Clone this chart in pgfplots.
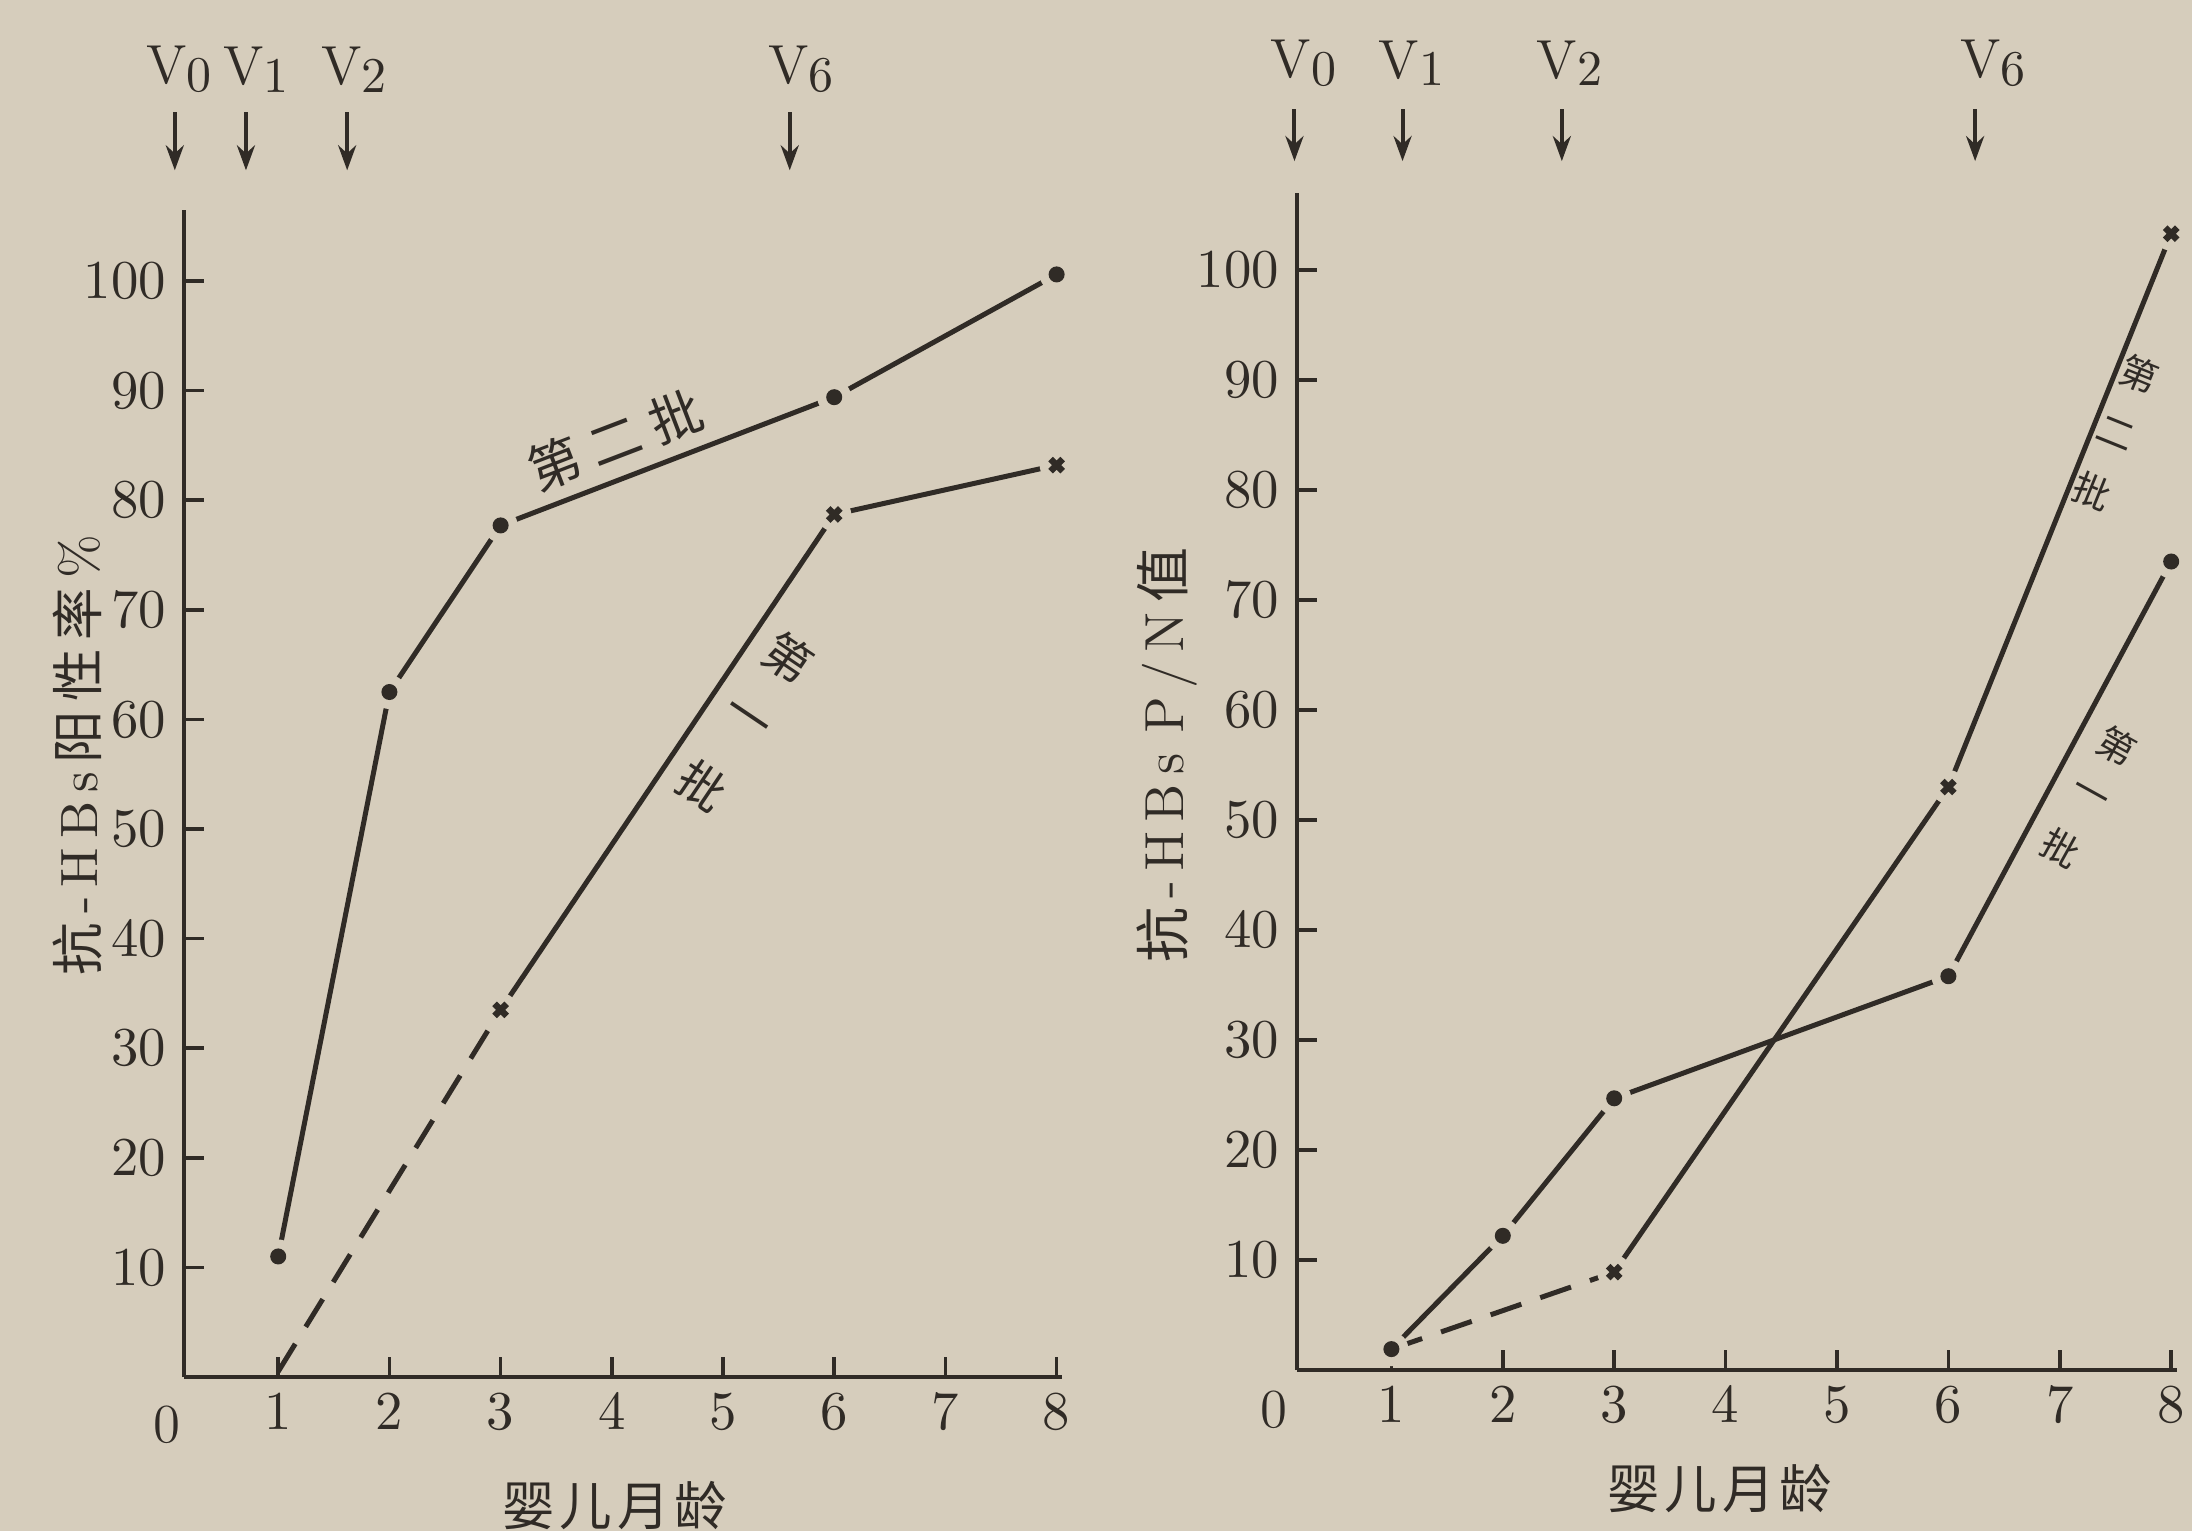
\documentclass[border=0pt]{standalone}
\usepackage{fontspec}
\newfontfamily\cjk{Noto Sans CJK SC}
\usepackage{pgfplots}
\usepackage{pgfplotstable}
\pgfplotsset{compat=1.18}
\usetikzlibrary{arrows.meta}
\definecolor{paper}{RGB}{214,205,188}
\definecolor{ink}{RGB}{48,43,38}

% Left panel: anti-HBs positive rate (%)
\pgfplotstableread{
x y
1 11
2 62.5
3 77.7
6 89.4
8 100.6
}\Lsecond
\pgfplotstableread{
x y
3 33.5
6 78.7
8 83.2
}\Lfirst
\pgfplotstableread{
x y
1 0.5
3 33.5
}\LfirstDash
% Right panel: anti-HBs P/N value
\pgfplotstableread{
x y
1 1.9
2 12.2
3 24.7
6 35.8
8 73.5
}\Rfirst
\pgfplotstableread{
x y
3 8.9
6 53
8 103.3
}\Rsecond
\pgfplotstableread{
x y
1 1.9
3 8.9
}\RsecondDash

\pgfplotsset{
  panel/.style={
    axis lines=left,
    axis line style={-, line width=0.8pt, ink},
    tick align=inside, major tick length=4pt,
    every tick/.style={line width=0.7pt, ink},
    xmin=0.15, xmax=8.05, ymin=0,
    xtick={1,2,3,4,5,6,7,8}, ytick={10,20,30,40,50,60,70,80,90,100},
    ticklabel style={font=\fontsize{11}{12}\selectfont, text=ink},
    clip=false, anchor=south west,
  },
  ser/.style={ink, line width=1pt, no markers},
  dsh/.style={ink, line width=1pt, no markers, dash pattern=on 6.5pt off 4pt},
  halo/.style={only marks, mark=*, mark size=3.2pt, color=paper, mark options={draw=paper, fill=paper}},
  dot/.style={only marks, mark=*, mark size=1.4pt, color=ink, mark options={fill=ink, draw=ink}},
  crs/.style={only marks, mark=x, mark size=1.7pt, color=ink, mark options={line width=1.3pt}},
}
\tikzset{
  varr/.style={ink, line width=0.8pt, -{Stealth[length=5pt,width=3.6pt]}},
  vlab/.style={text=ink, font=\fontsize{11}{12}\selectfont, inner sep=0pt},
}
\newcommand{\V}[1]{V{\fontsize{10}{12}\selectfont\raisebox{-0.35ex}{#1}}}
\newcommand{\g}{\hspace{1.8pt}}

\begin{document}
\begin{tikzpicture}
\useasboundingbox (0,0) rectangle (438.4pt,306.2pt);
\fill[paper] (0,0) rectangle (438.4pt,306.2pt);

% ---------------- Left panel ----------------
\begin{axis}[panel, at={(36.74pt,30.8pt)}, x=22.24pt, y=2.192pt, ymax=106.5]
\addplot[dsh] table {\LfirstDash};
\addplot[ser] table {\Lfirst};
\addplot[ser] table {\Lsecond};
\addplot[halo] table {\Lsecond};
\addplot[halo] table {\Lfirst};
\addplot[dot] table {\Lsecond};
\addplot[crs] table {\Lfirst};
\node[text=ink, font=\fontsize{11}{12}\selectfont] at (axis cs:0,0) [yshift=-9.5pt] {0};
% vaccination arrows
\draw[varr] (axis cs:0.07,115.4) -- (axis cs:0.07,110.1);
\draw[varr] (axis cs:0.71,115.4) -- (axis cs:0.71,110.1);
\draw[varr] (axis cs:1.62,115.4) -- (axis cs:1.62,110.1);
\draw[varr] (axis cs:5.60,115.4) -- (axis cs:5.60,110.1);
\node[vlab] at (axis cs:0.11,119.3) {\V{0}};
\node[vlab] at (axis cs:0.80,119.3) {\V{1}};
\node[vlab] at (axis cs:1.68,119.3) {\V{2}};
\node[vlab] at (axis cs:5.70,119.3) {\V{6}};
% series labels
\node[text=ink, font=\cjk\fontsize{10.5}{12}\selectfont, rotate=21] at (axis cs:4.03,85.5) {第\hspace{2.5pt}二\hspace{2.5pt}批};
\node[text=ink, font=\cjk\fontsize{9.5}{12}\selectfont, rotate=-34, inner sep=1pt] at (axis cs:5.2,59.8) {\shortstack{第\\[6pt]一\\[6pt]批}};
\end{axis}

% ---------------- Right panel ----------------
\begin{axis}[panel, at={(259.34pt,32.2pt)}, x=22.28pt, y=2.2pt, ymax=107]
\addplot[dsh] table {\RsecondDash};
\addplot[ser] table {\Rsecond};
\addplot[ser] table {\Rfirst};
\addplot[halo] table {\Rfirst};
\addplot[halo] table {\Rsecond};
\addplot[dot] table {\Rfirst};
\addplot[crs] table {\Rsecond};
\node[text=ink, font=\fontsize{11}{12}\selectfont] at (axis cs:-0.05,0) [yshift=-8pt] {0};
\draw[varr] (axis cs:0.13,114.6) -- (axis cs:0.13,109.9);
\draw[varr] (axis cs:1.10,114.6) -- (axis cs:1.10,109.9);
\draw[varr] (axis cs:2.53,114.6) -- (axis cs:2.53,109.9);
\draw[varr] (axis cs:6.24,114.6) -- (axis cs:6.24,109.9);
\node[vlab] at (axis cs:0.21,118.8) {\V{0}};
\node[vlab] at (axis cs:1.18,118.8) {\V{1}};
\node[vlab] at (axis cs:2.60,118.8) {\V{2}};
\node[vlab] at (axis cs:6.40,118.8) {\V{6}};
\node[text=ink, font=\cjk\fontsize{7.5}{9}\selectfont, rotate=-22, inner sep=1pt] at (axis cs:7.5,85.2) {\shortstack{第\\[3.5pt]二\\[3.5pt]批}};
\node[text=ink, font=\cjk\fontsize{7.5}{9}\selectfont, rotate=-29, inner sep=1pt] at (axis cs:7.26,52.1) {\shortstack{第\\[3.5pt]一\\[3.5pt]批}};
\end{axis}

% axis titles
\node[text=ink, rotate=90, font=\fontsize{10.5}{12}\selectfont] at (15.4pt,155.2pt)
  {{\cjk 抗}\g-\g H\g B\g s\g{\cjk 阳}\g{\cjk 性}\g{\cjk 率}\g\%};
\node[text=ink, rotate=90, font=\fontsize{11}{12}\selectfont] at (233.4pt,155.2pt)
  {{\cjk 抗}\g-\g H\g B\g s\hspace{4pt}P\g/\g N\g{\cjk 值}};
\node[text=ink, font=\cjk\fontsize{10.5}{12}\selectfont] at (123pt,5pt) {婴\hspace{1pt}儿\hspace{1pt}月\hspace{1pt}龄};
\node[text=ink, font=\cjk\fontsize{10.5}{12}\selectfont] at (343.9pt,8.4pt) {婴\hspace{1pt}儿\hspace{1pt}月\hspace{1pt}龄};
\end{tikzpicture}
\end{document}
